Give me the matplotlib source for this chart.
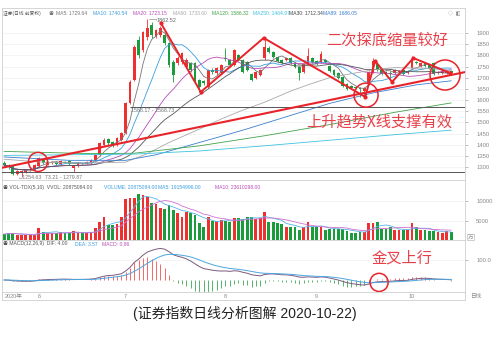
import matplotlib
matplotlib.use("Agg")
import matplotlib.pyplot as plt
import numpy as np
import pandas as pd

plt.rcParams['font.family'] = ['Liberation Sans', 'Noto Sans CJK SC', 'DejaVu Sans']

# daily bars 2020-05-20 .. 2020-10-22
opens = [1318, 1309, 1305, 1269, 1273, 1278, 1287, 1291, 1305, 1332,
         1314, 1318, 1323, 1314, 1323, 1327, 1296, 1305, 1318, 1318,
         1318, 1332, 1354, 1399, 1426, 1412, 1399, 1421, 1452, 1587,
         1690, 1869, 1824, 1882, 1936, 1887, 1891, 1891, 1855, 1770,
         1766, 1770, 1748, 1766, 1766, 1690, 1685, 1658, 1734, 1721,
         1721, 1788, 1779, 1757, 1802, 1779, 1770, 1716, 1699, 1712,
         1788, 1833, 1815, 1793, 1779, 1779, 1788, 1766, 1748, 1725,
         1766, 1788, 1775, 1770, 1779, 1752, 1734, 1721, 1703, 1672,
         1663, 1658, 1654, 1640, 1672, 1725, 1761, 1734, 1725, 1721,
         1721, 1725, 1734, 1721, 1743, 1770, 1752, 1766, 1757, 1766,
         1721, 1721, 1721, 1730]
closes = [1309, 1300, 1269, 1282, 1282, 1287, 1291, 1309, 1341, 1318,
          1323, 1323, 1314, 1327, 1320, 1314, 1305, 1318, 1316, 1323,
          1332, 1354, 1408, 1421, 1408, 1394, 1430, 1452, 1587, 1681,
          1837, 1802, 1904, 1922, 1891, 1913, 1922, 1855, 1757, 1712,
          1788, 1810, 1779, 1734, 1681, 1658, 1676, 1734, 1725, 1743,
          1757, 1784, 1757, 1824, 1779, 1725, 1734, 1690, 1725, 1734,
          1837, 1815, 1793, 1775, 1766, 1788, 1766, 1748, 1721, 1761,
          1797, 1770, 1761, 1806, 1770, 1730, 1712, 1699, 1663, 1649,
          1654, 1654, 1649, 1654, 1725, 1775, 1734, 1716, 1712, 1716,
          1734, 1730, 1716, 1730, 1779, 1766, 1766, 1752, 1743, 1716,
          1725, 1730, 1725, 1721]
highs = [1327, 1314, 1309, 1287, 1287, 1291, 1296, 1314, 1345, 1336,
         1327, 1327, 1327, 1332, 1327, 1332, 1309, 1323, 1323, 1327,
         1336, 1358, 1412, 1430, 1432, 1418, 1434, 1457, 1592, 1690,
         1845, 1887, 1910, 1963, 1950, 1920, 1930, 1900, 1860, 1779,
         1795, 1815, 1788, 1770, 1770, 1694, 1690, 1740, 1743, 1748,
         1761, 1833, 1784, 1830, 1806, 1784, 1775, 1720, 1730, 1740,
         1878, 1840, 1820, 1797, 1784, 1793, 1792, 1770, 1752, 1766,
         1833, 1793, 1779, 1819, 1784, 1757, 1738, 1725, 1707, 1676,
         1667, 1663, 1658, 1658, 1730, 1788, 1766, 1738, 1730, 1730,
         1738, 1734, 1738, 1734, 1797, 1775, 1770, 1770, 1761, 1770,
         1730, 1734, 1730, 1734]
lows = [1300, 1291, 1264, 1264, 1255, 1273, 1282, 1287, 1300, 1314,
        1309, 1314, 1309, 1309, 1316, 1309, 1278, 1300, 1312, 1314,
        1314, 1327, 1350, 1394, 1400, 1388, 1394, 1416, 1448, 1580,
        1685, 1788, 1815, 1869, 1878, 1878, 1882, 1846, 1750, 1681,
        1757, 1761, 1743, 1725, 1676, 1636, 1667, 1654, 1718, 1714,
        1716, 1775, 1750, 1752, 1774, 1720, 1730, 1685, 1694, 1707,
        1779, 1810, 1788, 1770, 1761, 1775, 1761, 1743, 1690, 1720,
        1761, 1766, 1756, 1766, 1766, 1725, 1707, 1694, 1658, 1645,
        1649, 1649, 1614, 1620, 1667, 1720, 1730, 1712, 1707, 1690,
        1716, 1720, 1712, 1716, 1738, 1761, 1748, 1748, 1738, 1712,
        1716, 1716, 1716, 1716]
volumes = [1500, 1700, 1900, 1300, 1200, 1300, 1200, 1400, 3200, 2000,
           1800, 1700, 1900, 2000, 1700, 1800, 2200, 1900, 1700, 1800,
           2000, 3000, 4700, 5800, 3900, 3900, 4200, 6000, 10400, 10900,
           10800, 11700, 11500, 11000, 9500, 9200, 8300, 8000, 9000, 7800,
           7000, 6000, 7300, 6900, 6500, 4400, 3400, 6000, 4800, 5000,
           5200, 4800, 4700, 5700, 5600, 5300, 6000, 6000, 5500, 5600,
           7300, 4700, 4700, 4300, 4200, 3400, 3400, 3400, 2600, 3300,
           4700, 3300, 3300, 3400, 2500, 2800, 2800, 2900, 2800, 2200,
           1800, 1800, 2100, 2100, 4400, 4400, 4700, 2900, 2900, 3300,
           2500, 2500, 2500, 2500, 4300, 3300, 2500, 2500, 2300, 2200,
           2000, 1800, 2200, 2000]

# long averages need history before the window
ma60_idx = [0, 10, 20, 28, 33, 38, 45, 50, 55, 60, 66, 70, 75, 80, 85, 90, 97, 103]
ma60_val = [1335, 1320, 1318, 1322, 1360, 1410, 1470, 1515, 1555, 1590, 1640, 1668, 1700, 1718, 1735, 1745, 1742, 1734]
ma89_idx = [0, 15, 28, 35, 45, 55, 65, 75, 85, 95, 103]
ma89_val = [1345, 1330, 1330, 1355, 1410, 1465, 1525, 1585, 1632, 1668, 1686]
ma120_idx = [0, 20, 30, 45, 60, 75, 90, 103]
ma120_val = [1370, 1360, 1362, 1395, 1440, 1490, 1545, 1587]
ma250_idx = [0, 30, 45, 60, 75, 90, 103]
ma250_val = [1352, 1358, 1372, 1395, 1420, 1445, 1465]

month_idx = [0, 8, 28, 51, 72, 94]
month_labels = ['2020年', '6', '7', '8', '9', '10']

# hand-drawn red marks
trend_idx = [-0.7, 106.2]
trend_val = [1296, 1725]
zig_idx = [36.1, 45.3, 59.8, 83.2, 85.5, 89.4, 94.3, 102.8]
zig_val = [1945, 1636, 1878, 1614, 1775, 1681, 1788, 1721]
circle_idx = [7.8, 83.4, 101.6]
circle_val = [1323, 1622, 1712]

RED = '#f03030'
GREEN = '#1a9b3c'
MARK = '#e8232a'
GRID = '#cfcfcf'

W, H = 500, 341


def box(x0, y0, x1, y1):
    return [x0 / W, 1 - y1 / H, (x1 - x0) / W, (y1 - y0) / H]


def ftext(x, y, s, **kw):
    kw.setdefault('fontsize', 3.6)
    kw.setdefault('va', 'center')
    fig.text(x / W, 1 - y / H, s, **kw)


fig = plt.figure(figsize=(5, 3.41), dpi=100)
ax = fig.add_axes(box(2, 8, 465, 180))
axv = fig.add_axes(box(2, 180, 465, 240), sharex=ax)
axm = fig.add_axes(box(2, 240, 465, 292), sharex=ax)
axs = fig.add_axes(box(2, 292, 465, 300), sharex=ax)

x = np.arange(len(closes))
o = np.array(opens)
c = np.array(closes)
up = c >= o
cols = np.where(up, RED, GREEN)

# candles
ax.vlines(x, lows, highs, colors=cols, lw=0.6, zorder=2)
ax.bar(x, np.maximum(np.abs(c - o), 1.5), bottom=np.minimum(o, c), width=0.64,
       color=cols, zorder=2)

cs = pd.Series(closes)
ax.plot(x, cs.rolling(5, min_periods=1).mean(), color='#777777', lw=0.6, zorder=3)
ax.plot(x, cs.rolling(10, min_periods=1).mean(), color='#3a9ee0', lw=0.6, zorder=3)
ax.plot(x, cs.rolling(20, min_periods=1).mean(), color='#b84cb8', lw=0.6, zorder=3)
ax.plot(x, cs.rolling(30, min_periods=1).mean(), color='#555555', lw=0.6, zorder=3)
ax.plot(ma60_idx, ma60_val, color='#a8a8a8', lw=0.6, zorder=3)
ax.plot(ma89_idx, ma89_val, color='#3a7fd0', lw=0.6, zorder=3)
ax.plot(ma120_idx, ma120_val, color='#3fa34a', lw=0.6, zorder=3)
ax.plot(ma250_idx, ma250_val, color='#3cc3de', lw=0.6, zorder=3)

ax.hlines(1568.5, 29, 106.2, color='#555555', lw=0.7, zorder=3)
ax.hlines(1277, -1, 106.2, color='#555555', lw=0.7, zorder=3)
ax.text(29.2, 1566, '1568.17 - 1568.73', fontsize=3.8, color='#777777', va='top')
ax.text(3.2, 1255, '←1254.63', fontsize=3.8, color='#777777', va='center')
ax.text(9.5, 1255, '73.21 - 1279.87', fontsize=3.8, color='#777777', va='center')
top = int(np.argmax(highs))
ax.plot([top + 0.3, top + 2.0, top + 2.0], [highs[top], highs[top], highs[top] - 6],
        color='#777777', lw=0.4)
ax.text(top + 2.2, highs[top] - 9, '1862.52', fontsize=4, color='#666666', va='center')

# red annotations
ax.plot(trend_idx, trend_val, color=MARK, lw=1.5, zorder=5)
ax.plot(zig_idx, zig_val, color=MARK, lw=1.4, marker='o', ms=2, zorder=5)
ax.scatter(circle_idx, circle_val, s=[188, 299, 467], facecolors='none',
           edgecolors=MARK, linewidths=1.1, zorder=6)
ax.text(88.2, 1867, '二次探底缩量较好', fontsize=11, color='#e8404a',
        ha='center', va='center', family=['Noto Sans CJK SC'], zorder=6)
ax.text(86.4, 1502, '上升趋势X线支撑有效', fontsize=11, color='#e8404a',
        ha='center', va='center', family=['Noto Sans CJK SC'], zorder=6)

ax.set_ylim(1242, 2012)
ax.set_yticks(np.arange(1300, 1901, 50))
ax.set_xlim(-0.5, 106.2)

# volume
axv.bar(x, volumes, width=0.64, color=cols)
vs = pd.Series(volumes)
axv.plot(x, vs.rolling(5, min_periods=1).mean(), color='#5ab4e6', lw=0.6)
axv.plot(x, vs.rolling(10, min_periods=1).mean(), color='#d070d0', lw=0.6)
axv.set_ylim(0, 15400)
axv.set_yticks([5000, 10000])

# macd
dif = cs.ewm(span=12, adjust=False).mean() - cs.ewm(span=26, adjust=False).mean()
dea = dif.ewm(span=9, adjust=False).mean()
hist = 2 * (dif - dea)
axm.vlines(x, 0, hist, colors=np.where(hist >= 0, '#f05050', '#3aa852'), lw=0.6)
axm.plot(x, dif, color='#7d5a7d', lw=0.7)
axm.plot(x, dea, color='#4aa6e0', lw=0.7)
axm.scatter([86.4], [-12], s=170, facecolors='none', edgecolors=MARK, linewidths=1.1,
            zorder=6, clip_on=False)
axm.text(91.7, 110, '金叉上行', fontsize=11, color='#e8404a', ha='center', va='center',
         family=['Noto Sans CJK SC'])
axm.set_ylim(-60, 200)
axm.set_yticks([100])
axm.set_yticklabels(['100.0'])

for a in (ax, axv, axm, axs):
    for s in a.spines.values():
        s.set_color(GRID)
        s.set_linewidth(0.6)
    a.yaxis.tick_right()
    a.tick_params(axis='y', labelsize=4.2, colors='#888888', length=2, width=0.4, pad=6)
    a.tick_params(axis='x', bottom=False, labelbottom=False)
    a.grid(axis='y', color='#f0f0f0', lw=0.5)
    a.set_axisbelow(True)
axs.set_yticks([])
axs.set_ylim(0, 1)
for i, lab in zip(month_idx, month_labels):
    axs.text(i + (0.1 if i == 0 else 0), 0.5, lab, fontsize=4, color='#888888',
             ha='left' if i == 0 else 'center', va='center')

# panel headers
ftext(3, 13.5, '证券(日线 前复权)', color='#555555', fontsize=3.4)
ftext(49, 13.5, '◉', color='#777777')
ftext(56, 13.5, 'MA5: 1729.64', color='#777777')
ftext(93, 13.5, 'MA10: 1740.54', color='#3a9ee0')
ftext(133, 13.5, 'MA20: 1723.15', color='#b84cb8')
ftext(173, 13.5, 'MA60: 1733.60', color='#a8a8a8')
ftext(212, 13.5, 'MA120: 1586.32', color='#3fa34a')
ftext(253, 13.5, 'MA250: 1464.97', color='#3cc3de')
ftext(289, 13.5, 'MA30: 1712.34', color='#444444')
ftext(323, 13.5, 'MA89: 1686.05', color='#3a7fd0')
ftext(448, 13.5, '◇  ◧', color='#888888')

ftext(3, 188, '◉ VOL-TDX(5,10)  VVOL: 20875084.00', color='#555555')
ftext(104, 188, 'VOLUME: 20875084.00', color='#3a9ee0')
ftext(158, 188, 'MA5: 19154996.00', color='#3a9ee0')
ftext(215, 188, 'MA10: 23610298.00', color='#b84cb8')

ftext(3, 244, '◉ MACD(12,26,9)  DIF: 4.00', color='#555555')
ftext(75, 244, 'DEA: 3.57', color='#3a9ee0')
ftext(102, 244, 'MACD: 0.86', color='#b84cb8')

ftext(468, 237, '万', color='#888888', fontsize=4,
      bbox=dict(boxstyle='square,pad=0.15', fc='white', ec='#aaaaaa', lw=0.4))
ftext(470, 296, '日线', color='#888888', fontsize=4)

ftext(245, 313, '(证券指数日线分析图解 2020-10-22)', color='#222222', fontsize=10,
      ha='center', family=['Liberation Sans', 'Noto Sans CJK SC'])

fig.savefig('out.png', dpi=100)
